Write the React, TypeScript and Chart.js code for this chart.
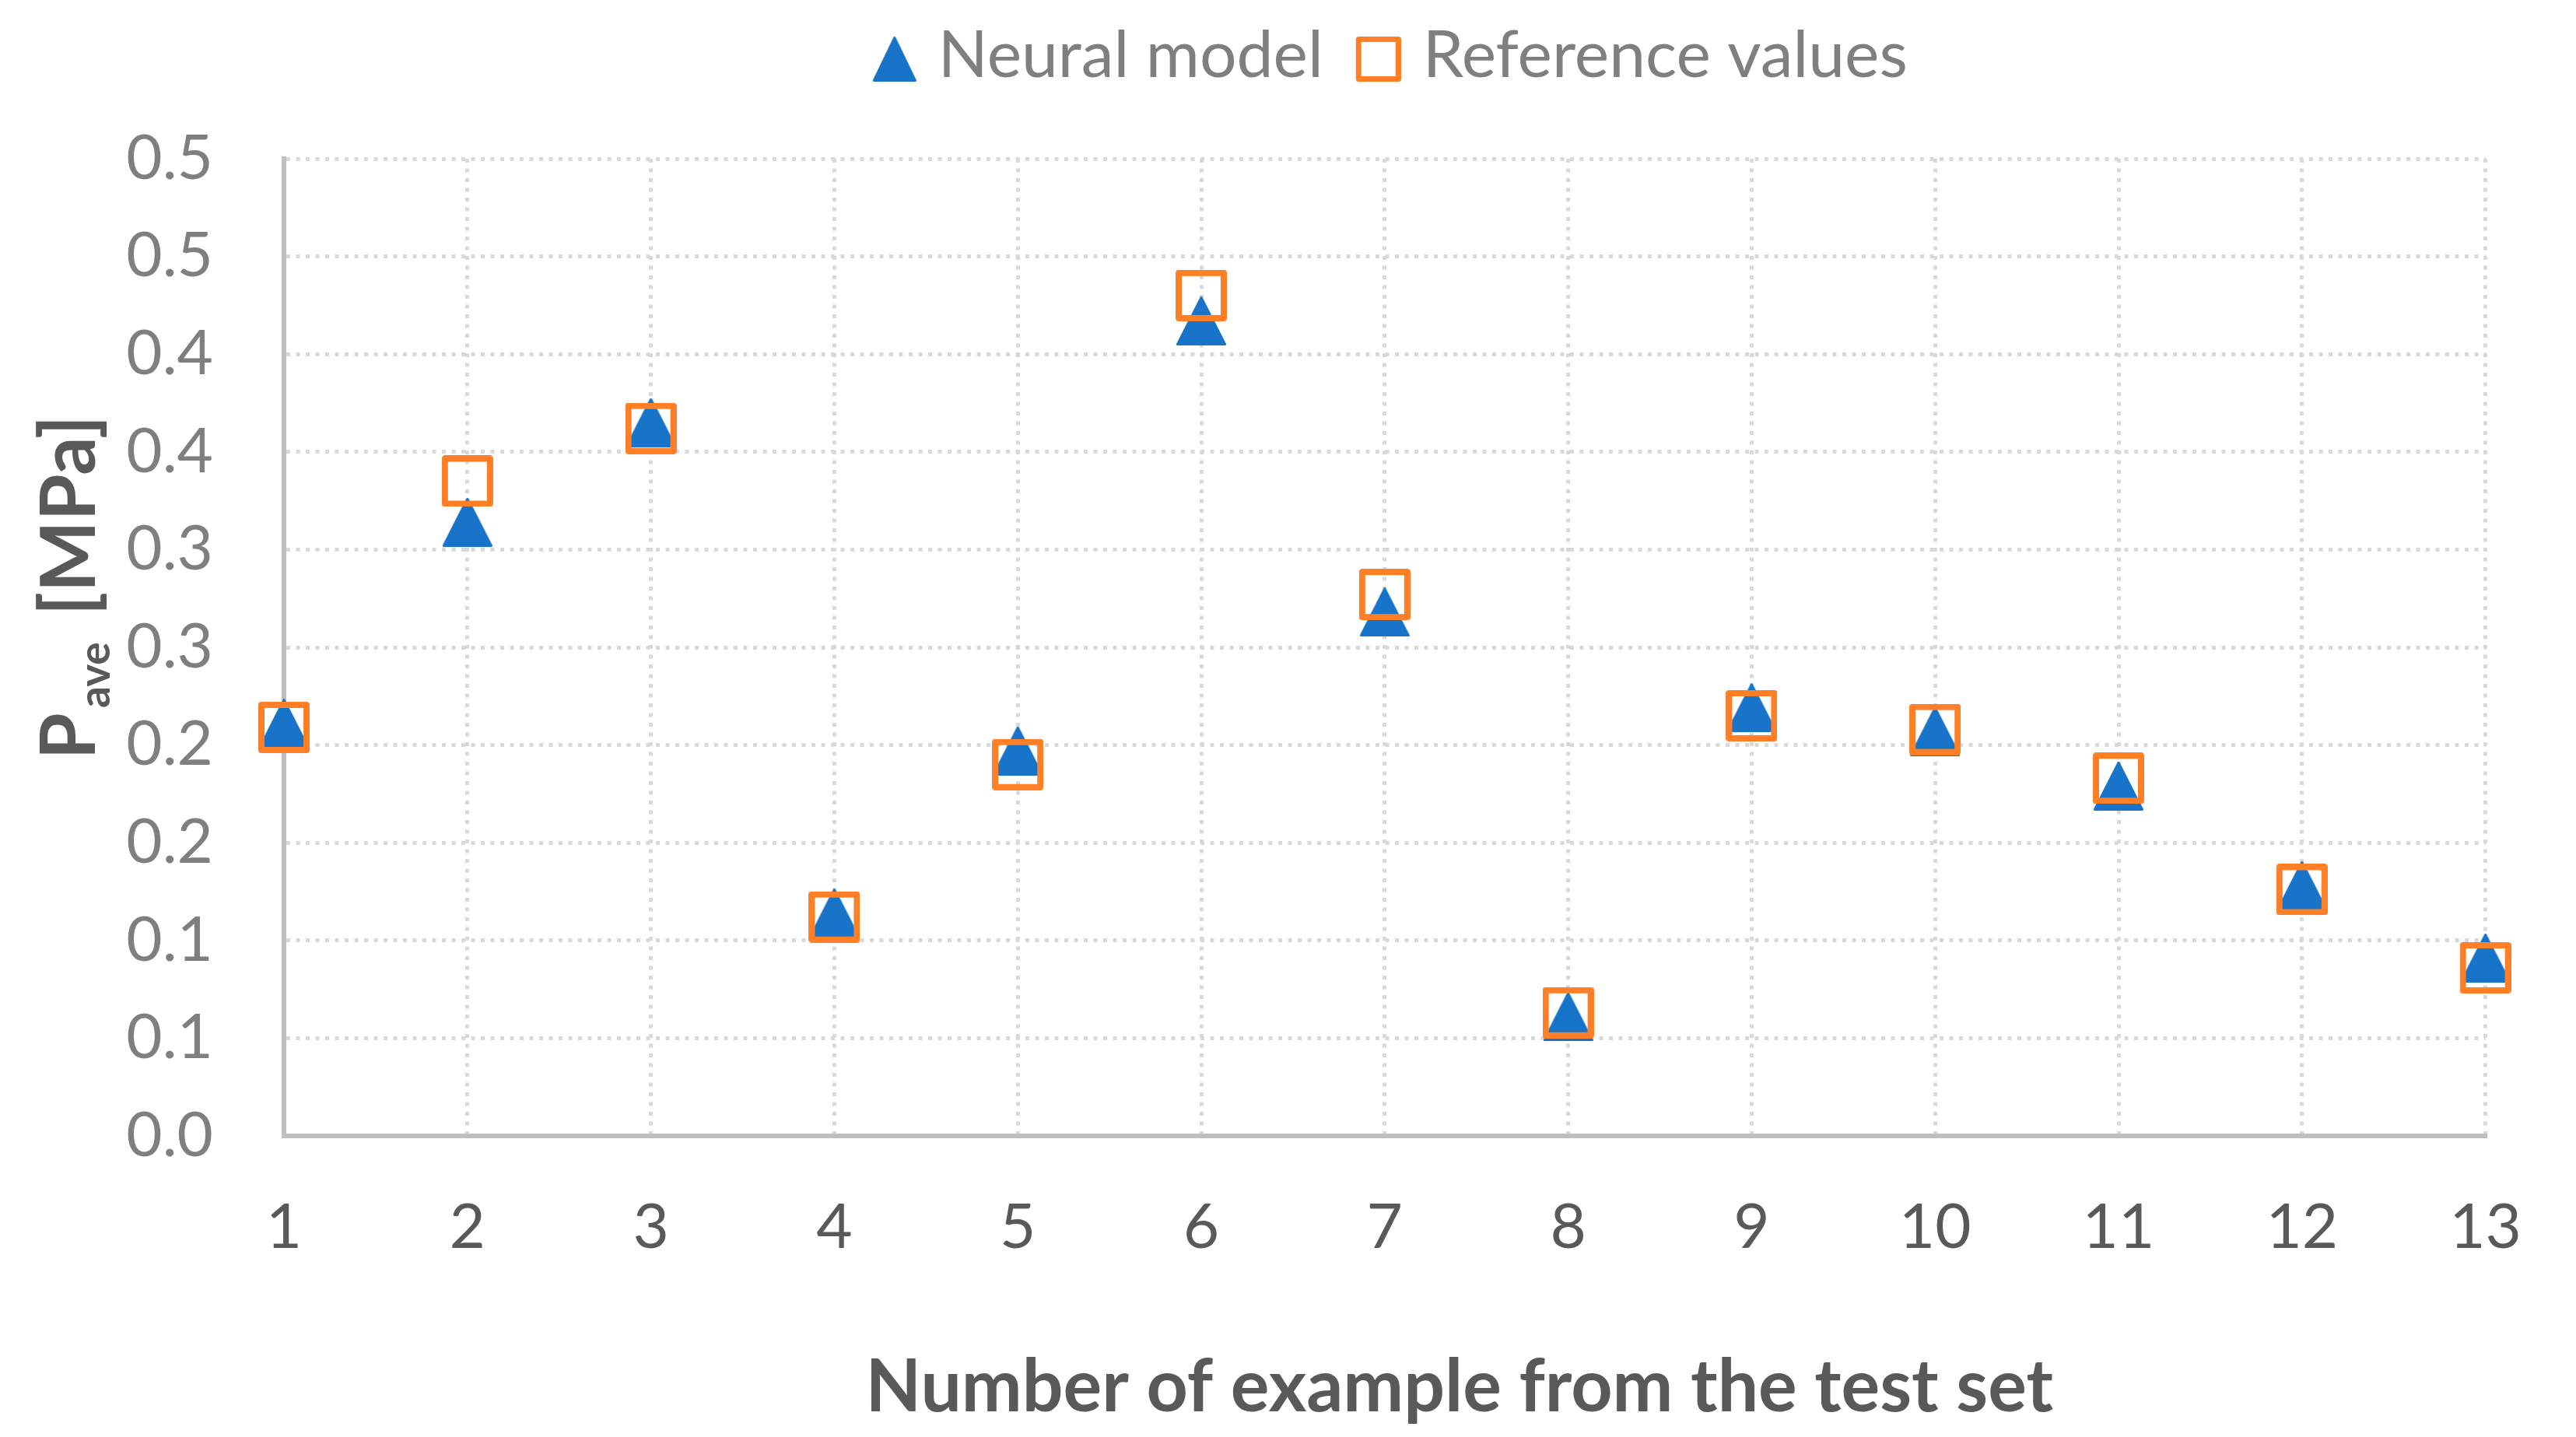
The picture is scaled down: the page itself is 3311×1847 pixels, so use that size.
import React, { useEffect, useRef } from 'react';
import { Chart, registerables } from 'chart.js';

Chart.register(...registerables);

// ---- data ----
const CATEGORIES = ['1', '2', '3', '4', '5', '6', '7', '8', '9', '10', '11', '12', '13'];
const NEURAL_MODEL = [0.211, 0.314, 0.365, 0.114, 0.197, 0.417, 0.268, 0.061, 0.219, 0.207, 0.179, 0.128, 0.091];
const REFERENCE_VALUES = [0.209, 0.335, 0.362, 0.112, 0.190, 0.430, 0.277, 0.063, 0.215, 0.208, 0.183, 0.126, 0.086];
const Y_TICK_LABELS = ['0.0', '0.1', '0.1', '0.2', '0.2', '0.3', '0.3', '0.4', '0.4', '0.5', '0.5'];
const SERIES_NAMES = ['Neural model', 'Reference values'];
const X_TITLE = 'Number of example from the test set';
const Y_TITLE_MAIN = 'P';
const Y_TITLE_SUB = 'ave';
const Y_TITLE_UNIT = '[MPa]';

const BLUE = '#1874C8';
const ORANGE = '#FF7F27';
const FONT = 'Lato';

function makeTriangle(w: number, h: number, padLeft: number, padTop: number): HTMLCanvasElement {
  const c = document.createElement('canvas');
  c.width = w + padLeft;
  c.height = h + padTop;
  const ctx = c.getContext('2d')!;
  ctx.fillStyle = BLUE;
  ctx.strokeStyle = BLUE;
  ctx.lineWidth = 3;
  ctx.lineJoin = 'round';
  ctx.beginPath();
  ctx.moveTo(padLeft + w / 2, padTop + 1.5);
  ctx.lineTo(padLeft + w - 1.5, padTop + h - 1.5);
  ctx.lineTo(padLeft + 1.5, padTop + h - 1.5);
  ctx.closePath();
  ctx.fill();
  ctx.stroke();
  return c;
}

function makeSquare(s: number, lw: number, padLeft: number, padTop: number): HTMLCanvasElement {
  const c = document.createElement('canvas');
  c.width = s + padLeft;
  c.height = s + padTop;
  const ctx = c.getContext('2d')!;
  ctx.strokeStyle = ORANGE;
  ctx.lineWidth = lw;
  ctx.lineJoin = 'round';
  ctx.strokeRect(padLeft + lw / 2, padTop + lw / 2, s - lw, s - lw);
  return c;
}

const axisTitles = {
  id: 'axisTitles',
  afterDraw(chart: any) {
    const { ctx, chartArea } = chart;
    ctx.save();
    ctx.fillStyle = '#595959';
    ctx.textBaseline = 'alphabetic';
    // x title
    ctx.font = `bold 93px ${FONT}`;
    ctx.textAlign = 'center';
    ctx.fillText(X_TITLE, (chartArea.left + chartArea.right) / 2 + 96, chartArea.bottom + 354);
    // y title with subscript
    const main = `bold 97px ${FONT}`;
    const sub = `bold 55px ${FONT}`;
    ctx.font = main;
    const wP = ctx.measureText(Y_TITLE_MAIN).width;
    const wU = ctx.measureText(Y_TITLE_UNIT).width;
    ctx.font = sub;
    const wS = ctx.measureText(Y_TITLE_SUB).width;
    const gap1 = 6;
    const gap2 = 34;
    const total = wP + gap1 + wS + gap2 + wU;
    const cy = (chartArea.top + chartArea.bottom) / 2 - 77;
    ctx.translate(122, cy + total / 2);
    ctx.rotate(-Math.PI / 2);
    ctx.textAlign = 'left';
    ctx.font = main;
    ctx.fillText(Y_TITLE_MAIN, 0, 0);
    ctx.font = sub;
    ctx.fillText(Y_TITLE_SUB, wP + gap1, 19);
    ctx.font = main;
    ctx.fillText(Y_TITLE_UNIT, wP + gap1 + wS + gap2, 0);
    ctx.restore();
  },
};

export default function App() {
  const canvasRef = useRef<HTMLCanvasElement | null>(null);

  useEffect(() => {
    let chart: Chart | null = null;
    let cancelled = false;

    const build = () => {
      if (cancelled || !canvasRef.current) return;
      const triPoint = makeTriangle(64, 63, 0, 0);
      const sqPoint = makeSquare(66, 8, 0, 0);
      const triLegend = makeTriangle(56, 58, 28, 8);
      const sqLegend = makeSquare(58, 7, 26, 8);

      chart = new Chart(canvasRef.current, {
        type: 'line',
        data: {
          labels: CATEGORIES,
          datasets: [
            {
              label: SERIES_NAMES[0],
              data: NEURAL_MODEL,
              showLine: false,
              pointStyle: triPoint as any,
              pointRadius: 32,
              pointHoverRadius: 32,
              backgroundColor: BLUE,
              borderColor: BLUE,
              clip: false as any,
              order: 2,
            },
            {
              label: SERIES_NAMES[1],
              data: REFERENCE_VALUES,
              showLine: false,
              pointStyle: sqPoint as any,
              pointRadius: 33,
              pointHoverRadius: 33,
              backgroundColor: ORANGE,
              borderColor: ORANGE,
              clip: false as any,
              order: 1,
            },
          ],
        },
        options: {
          animation: false,
          responsive: true,
          maintainAspectRatio: false,
          events: [],
          layout: { padding: { left: 0, right: 95, top: 0, bottom: 0 } },
          plugins: {
            tooltip: { enabled: false },
            title: {
              display: true,
              text: '',
              position: 'top',
              weight: 500,
              fullSize: false,
              font: { size: 1, lineHeight: 1 },
              padding: { top: 0, bottom: 79 },
            } as any,
            legend: {
              display: true,
              position: 'top',
              fullSize: false,
              labels: {
                usePointStyle: true,
                pointStyleWidth: 56,
                padding: 30,
                color: '#7f7f7f',
                font: { family: FONT, size: 84 },
                generateLabels: () => [
                  {
                    text: SERIES_NAMES[0],
                    pointStyle: triLegend as any,
                    fillStyle: BLUE,
                    strokeStyle: BLUE,
                    lineWidth: 0,
                    hidden: false,
                    datasetIndex: 0,
                    fontColor: '#7f7f7f',
                  },
                  {
                    text: SERIES_NAMES[1],
                    pointStyle: sqLegend as any,
                    fillStyle: ORANGE,
                    strokeStyle: ORANGE,
                    lineWidth: 0,
                    hidden: false,
                    datasetIndex: 1,
                    fontColor: '#7f7f7f',
                  },
                ],
              },
            },
          },
          scales: {
            x: {
              type: 'category',
              offset: false,
              ticks: {
                color: '#595959',
                font: { family: FONT, size: 80 },
                padding: 70,
                autoSkip: false,
                maxRotation: 0,
                minRotation: 0,
              },
              grid: { color: '#d9d9d9', lineWidth: 5, drawTicks: false },
              border: { display: true, color: '#bfbfbf', width: 6, dash: [5, 7.5] },
              afterFit: (s: any) => {
                s.height = 387;
              },
            },
            y: {
              type: 'linear',
              min: 0,
              max: 0.5,
              ticks: {
                stepSize: 0.05,
                color: '#7f7f7f',
                font: { family: FONT, size: 80 },
                padding: 91,
                callback: (_v: any, i: number) => Y_TICK_LABELS[i],
              },
              grid: { color: '#d9d9d9', lineWidth: 5, drawTicks: false },
              border: { display: true, color: '#bfbfbf', width: 6, dash: [5, 7.5] },
              afterFit: (s: any) => {
                s.width = 365;
              },
            },
          },
        },
        plugins: [axisTitles],
      });
    };

    const fontsReady = (document as any).fonts
      ? Promise.all([
          (document as any).fonts.load(`80px ${FONT}`),
          (document as any).fonts.load(`bold 80px ${FONT}`),
        ]).catch(() => null)
      : Promise.resolve(null);
    fontsReady.then(build);

    return () => {
      cancelled = true;
      if (chart) chart.destroy();
    };
  }, []);

  return (
    <div style={{ position: 'fixed', left: 0, top: 0, width: '100vw', height: '100vh', background: '#ffffff' }}>
      <canvas ref={canvasRef} />
    </div>
  );
}
